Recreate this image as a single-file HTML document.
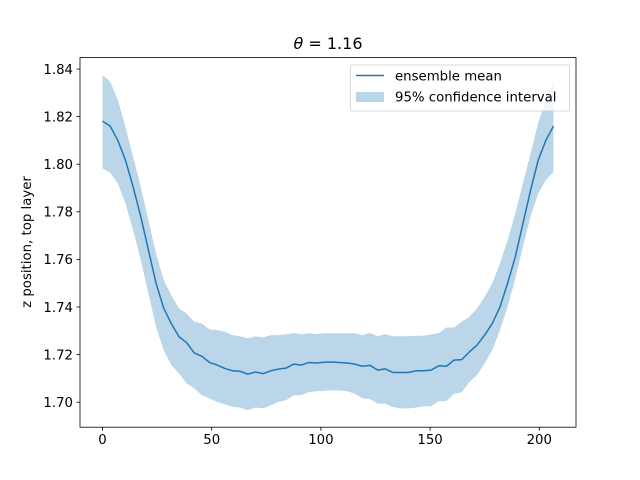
<!DOCTYPE html>
<html><head><meta charset="utf-8"><style>
body{margin:0;background:#fff;}
svg{display:block;font-family:"DejaVu Sans","Liberation Sans",sans-serif;}
</style></head><body>
<svg id="chart" width="640" height="480" viewBox="0 0 640 480" xmlns="http://www.w3.org/2000/svg">
<rect width="640" height="480" fill="#fff"/>
<g id="plot"></g>
</svg>
<script>
const xStart = 0, xStep = 3.5;
const meanVals = [1.8181,1.816,1.810,1.8017,1.7905,1.778,1.764,1.750,1.7395,1.733,1.7275,1.725,1.7207,1.7193,1.7167,1.7156,1.7142,1.7132,1.713,1.7118,1.7127,1.712,1.7132,1.7139,1.7143,1.716,1.7156,1.7167,1.7165,1.7168,1.7169,1.7167,1.7165,1.716,1.7151,1.7155,1.7135,1.714,1.7125,1.7125,1.7125,1.7132,1.7132,1.7135,1.7153,1.7151,1.7177,1.7179,1.7211,1.724,1.7282,1.7331,1.740,1.750,1.761,1.775,1.789,1.8017,1.810,1.816];
const upperVals = [1.8375,1.8347,1.827,1.8157,1.803,1.7905,1.7765,1.7625,1.7513,1.745,1.7394,1.7373,1.7338,1.7331,1.7306,1.7303,1.7296,1.7282,1.7277,1.7268,1.7277,1.7272,1.7282,1.7282,1.7285,1.7291,1.7285,1.729,1.7286,1.729,1.729,1.729,1.729,1.729,1.7282,1.7291,1.7277,1.7286,1.7277,1.7277,1.7277,1.7279,1.7279,1.7285,1.7291,1.7314,1.7314,1.7338,1.7359,1.7394,1.7443,1.750,1.7583,1.7681,1.7793,1.792,1.8045,1.8172,1.827,1.8347];
const lowerVals = [1.7982,1.7964,1.7919,1.7835,1.7723,1.7597,1.7457,1.7317,1.7219,1.7156,1.7121,1.7079,1.7058,1.7029,1.7016,1.7001,1.6992,1.698,1.6978,1.6966,1.6978,1.6974,1.6987,1.7001,1.7008,1.7029,1.7029,1.7043,1.7046,1.7048,1.705,1.7049,1.7046,1.7036,1.7016,1.7013,1.6994,1.6994,1.698,1.6974,1.6974,1.6977,1.6983,1.6983,1.7005,1.7005,1.7036,1.7041,1.7085,1.7114,1.7163,1.7219,1.7303,1.740,1.752,1.7653,1.778,1.7877,1.7933,1.7968];
const xTicks = [0,50,100,150,200];
const yTicks = [1.70,1.72,1.74,1.76,1.78,1.80,1.82,1.84];

const L=80,R=576,T=57.6,B=427.2;
const xMin=-10.325,xMax=216.825;
const yMin=1.6895,yMax=1.8448;
const X=v=>L+(v-xMin)/(xMax-xMin)*(R-L);
const Y=v=>B-(v-yMin)/(yMax-yMin)*(B-T);
const NS="http://www.w3.org/2000/svg";
const g=document.getElementById('plot');
function mk(tag,attrs,parent){const e=document.createElementNS(NS,tag);for(const k in attrs)e.setAttribute(k,attrs[k]);(parent||g).appendChild(e);return e;}
const xs=meanVals.map((_,i)=>xStart+i*xStep);

let d='';
xs.forEach((x,i)=>{d+=(i?'L':'M')+X(x).toFixed(2)+','+Y(upperVals[i]).toFixed(2);});
for(let i=xs.length-1;i>=0;i--)d+='L'+X(xs[i]).toFixed(2)+','+Y(lowerVals[i]).toFixed(2);
d+='Z';
const band=mk('path',{d:d,fill:'#1f77b4','fill-opacity':'0.3',stroke:'none'});



const pts=xs.map((x,i)=>X(x).toFixed(2)+','+Y(meanVals[i]).toFixed(2)).join(' ');
const line=mk('polyline',{points:pts,fill:'none',stroke:'#1f77b4','stroke-width':'1.5','stroke-linejoin':'round'});



const frame=mk('rect',{x:L,y:T,width:R-L,height:B-T,fill:'none',stroke:'#000','stroke-width':'0.8'});



xTicks.forEach(t=>{
  const tk=mk('line',{x1:X(t),x2:X(t),y1:B,y2:B+3.5,stroke:'#000','stroke-width':'0.8'});
  
  
  const tx=mk('text',{x:X(t),y:B+17,'text-anchor':'middle','font-size':'13.3'});
  tx.textContent=t;
  
  
});
yTicks.forEach(t=>{
  const tk=mk('line',{x1:L-3.5,x2:L,y1:Y(t),y2:Y(t),stroke:'#000','stroke-width':'0.8'});
  
  
  const tx=mk('text',{x:L-7,y:Y(t)+4.8,'text-anchor':'end','font-size':'13.3'});
  tx.textContent=t.toFixed(2);
  
  
});
</script>
<svg style="position:absolute;left:0;top:0" width="640" height="480" xmlns="http://www.w3.org/2000/svg">
<text x="328" y="49" text-anchor="middle" font-size="16"><tspan font-style="italic">θ</tspan> = 1.16</text>
<text transform="translate(31,242) rotate(-90)" text-anchor="middle" font-size="13.3">z position, top layer</text>
<g>
<rect x="350.5" y="65" width="219" height="46" rx="2" fill="#fff" fill-opacity="0.8" stroke="#ccc" stroke-width="0.8"/>
<line x1="356" x2="384" y1="75.5" y2="75.5" stroke="#1f77b4" stroke-width="1.5"/>
<text x="395" y="80.5" font-size="13.3">ensemble mean</text>
<rect x="356" y="92" width="28" height="10" fill="#1f77b4" fill-opacity="0.3"/>
<text x="395" y="101.5" font-size="13.3">95% confidence interval</text>
</g>
</svg>
</body></html>
